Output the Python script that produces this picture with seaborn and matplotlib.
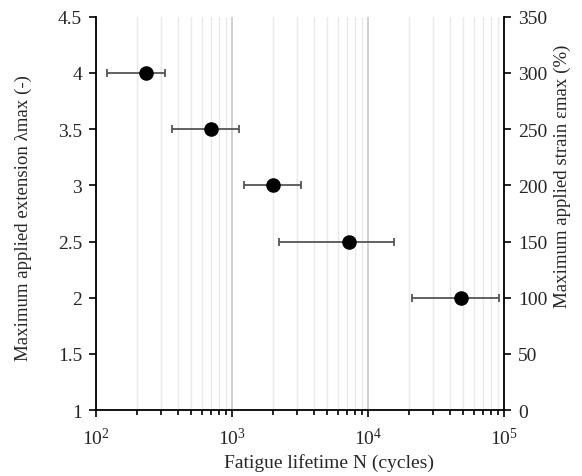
import numpy as np
import pandas as pd
import matplotlib
matplotlib.use("Agg")
import matplotlib.pyplot as plt
import seaborn as sns
from matplotlib.ticker import LogLocator, FixedLocator, FuncFormatter, NullFormatter

# Fatigue test results: mean lifetime and scatter range per extension level
extension = [4.0, 3.5, 3.0, 2.5, 2.0]
lifetime_mean = [235, 700, 2000, 7300, 48300]
lifetime_low = [121, 362, 1225, 2220, 21100]
lifetime_high = [322, 1125, 3200, 15450, 91900]

x_ticks = [1e2, 1e3, 1e4, 1e5]
x_ticklabels = [r"$10^2$", r"$10^3$", r"$10^4$", r"$10^5$"]
left_ticks = [1, 1.5, 2, 2.5, 3, 3.5, 4, 4.5]
right_ticks = [0, 50, 100, 150, 200, 250, 300, 350]

df = pd.DataFrame({
    "N": lifetime_mean,
    "lam": extension,
    "low": lifetime_low,
    "high": lifetime_high,
})

sns.set_theme(style="white")
plt.rcParams["font.family"] = ["Liberation Serif", "DejaVu Serif"]
plt.rcParams["mathtext.fontset"] = "custom"
plt.rcParams["mathtext.rm"] = "Liberation Serif"
plt.rcParams["mathtext.it"] = "Liberation Serif:italic"

fig = plt.figure(figsize=(5.82, 4.77), dpi=100)
ax = fig.add_axes([0.165, 0.138, 0.701, 0.825])

# horizontal scatter bars
xerr = np.array([df["N"] - df["low"], df["high"] - df["N"]])
ax.errorbar(df["N"], df["lam"], xerr=xerr, fmt="none", ecolor="#555555",
            elinewidth=1.3, capsize=2.6, capthick=1.3, zorder=3)
sns.scatterplot(data=df, x="N", y="lam", ax=ax, s=110, color="black",
                edgecolor="black", linewidth=0, zorder=4, legend=False)

ax.set_xscale("log")
ax.set_xlim(1e2, 1e5)
ax.set_ylim(1, 4.5)
ax.xaxis.set_major_locator(FixedLocator(x_ticks))
ax.set_xticklabels(x_ticklabels)
ax.xaxis.set_minor_locator(LogLocator(base=10, subs=np.arange(2, 10)))
ax.xaxis.set_minor_formatter(NullFormatter())
ax.yaxis.set_major_locator(FixedLocator(left_ticks))
ax.yaxis.set_major_formatter(FuncFormatter(lambda v, p: f"{v:g}"))

# vertical grid only
ax.grid(True, which="major", axis="x", color="#c8c8c8", linewidth=1.2)
ax.grid(True, which="minor", axis="x", color="#e9e9e9", linewidth=1.0)
ax.grid(False, axis="y")
ax.set_axisbelow(True)

for side in ["left", "bottom", "right"]:
    ax.spines[side].set_visible(True)
    ax.spines[side].set_color("black")
    ax.spines[side].set_linewidth(1.3)
ax.spines["top"].set_visible(False)

ax.tick_params(axis="x", which="major", direction="out", length=5, width=1.2,
               color="black", labelsize=14, pad=7, bottom=True)
ax.tick_params(axis="x", which="minor", direction="out", length=3.5, width=1.2,
               color="black", bottom=True)
ax.tick_params(axis="y", which="major", direction="out", length=5, width=1.2,
               color="black", labelsize=14, pad=5, left=True)

ax.set_xlabel("Fatigue lifetime N (cycles)", fontsize=14)
ax.xaxis.set_label_coords(0.57, -0.11)
ax.set_ylabel("Maximum applied extension λmax (-)", fontsize=13.6)
ax.yaxis.set_label_coords(-0.158, 0.49)

ax2 = ax.twinx()
ax2.set_ylim(0, 350)
ax2.yaxis.set_major_locator(FixedLocator(right_ticks))
for side in ["left", "bottom", "top", "right"]:
    ax2.spines[side].set_visible(False)
ax2.tick_params(axis="y", which="major", direction="out", length=5, width=1.2,
                color="black", labelsize=14, pad=5, right=True)
ax2.set_ylabel("Maximum applied strain εmax (%)", fontsize=13.6)
ax2.yaxis.set_label_coords(1.122, 0.596)
ax2.grid(False)

fig.savefig("out.png", dpi=100)
